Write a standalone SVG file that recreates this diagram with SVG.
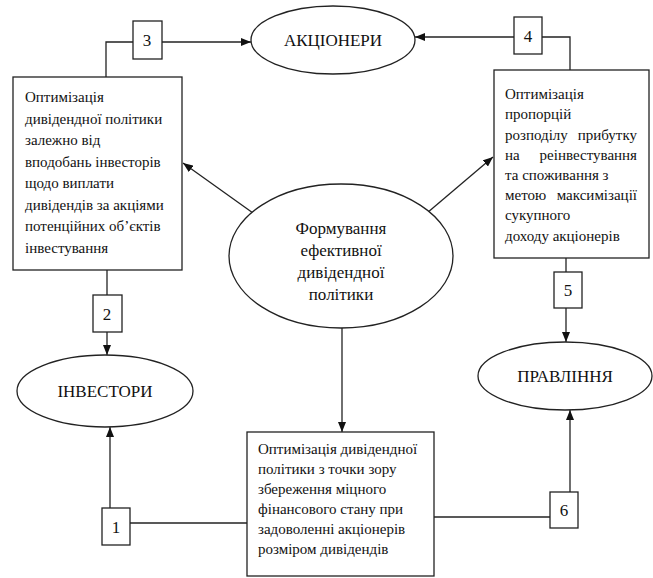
<svg xmlns="http://www.w3.org/2000/svg" width="653" height="578" viewBox="0 0 653 578">
<defs>
<marker id="arr" markerUnits="userSpaceOnUse" markerWidth="10" markerHeight="8" refX="10" refY="4" orient="auto">
<path d="M0,0 L10,4 L0,8 z" fill="#111"/>
</marker>
<style>
.shape{fill:#fff;stroke:#222;stroke-width:1.3}
.ln{fill:none;stroke:#222;stroke-width:1.3}
.t{font-family:'Liberation Serif','Tinos','DejaVu Serif',serif;font-size:15px;fill:#111}
.c{text-anchor:middle}
.big{font-size:17px}
</style>
</defs>
<rect width="653" height="578" fill="#fff"/>
<g id="connectors">
<polyline class="ln" points="106,77 106,42 133,42"/>
<line class="ln" x1="162" y1="42" x2="251" y2="42" marker-end="url(#arr)"/>
<polyline class="ln" points="570,70 570,37 542,37"/>
<line class="ln" x1="514" y1="37" x2="415" y2="37" marker-end="url(#arr)"/>
<line class="ln" x1="253" y1="213" x2="183" y2="163" marker-end="url(#arr)"/>
<line class="ln" x1="427" y1="213" x2="493" y2="157" marker-end="url(#arr)"/>
<line class="ln" x1="107" y1="270" x2="107" y2="295"/>
<line class="ln" x1="107" y1="332" x2="107" y2="355" marker-end="url(#arr)"/>
<line class="ln" x1="342" y1="328" x2="342" y2="432" marker-end="url(#arr)"/>
<line class="ln" x1="110" y1="508" x2="110" y2="427" marker-end="url(#arr)"/>
<line class="ln" x1="130" y1="523" x2="247" y2="523"/>
<line class="ln" x1="434" y1="517" x2="550" y2="517"/>
<line class="ln" x1="570" y1="492" x2="570" y2="410" marker-end="url(#arr)"/>
<line class="ln" x1="566" y1="258" x2="566" y2="272"/>
<line class="ln" x1="566" y1="308" x2="566" y2="342" marker-end="url(#arr)"/>
</g>
<g id="akcionery">
<ellipse class="shape" cx="333" cy="40" rx="82" ry="34"/>
<text class="t c big" x="333" y="46">АКЦІОНЕРИ</text>
</g>
<g id="investory">
<ellipse class="shape" cx="105" cy="391" rx="88" ry="36"/>
<text class="t c big" x="105" y="397">ІНВЕСТОРИ</text>
</g>
<g id="pravlinnia">
<ellipse class="shape" cx="565" cy="376" rx="87" ry="34"/>
<text class="t c big" x="565" y="382">ПРАВЛІННЯ</text>
</g>
<g id="center">
<ellipse class="shape" cx="341" cy="256" rx="112" ry="72"/>
<text class="t c big"><tspan x="341" y="234">Формування</tspan><tspan x="341" y="256">ефективної</tspan><tspan x="341" y="278">дивідендної</tspan><tspan x="341" y="300">політики</tspan></text>
</g>
<g id="box-left">
<rect class="shape" x="13" y="77" width="169" height="193"/>
<text class="t"><tspan x="25" y="102">Оптимізація</tspan><tspan x="25" y="124">дивідендної політики</tspan><tspan x="25" y="145">залежно від</tspan><tspan x="25" y="167">вподобань інвесторів</tspan><tspan x="25" y="188">щодо виплати</tspan><tspan x="25" y="210">дивідендів за акціями</tspan><tspan x="25" y="231">потенційних об’єктів</tspan><tspan x="25" y="253">інвестування</tspan></text>
</g>
<g id="box-right">
<rect class="shape" x="494" y="70" width="155" height="188"/>
<text class="t"><tspan x="505" y="99">Оптимізація</tspan><tspan x="505" y="119">пропорцій</tspan><tspan x="505" y="140">розподілу</tspan><tspan x="637" y="140" text-anchor="end">прибутку</tspan><tspan x="505" y="160">на</tspan><tspan x="637" y="160" text-anchor="end">реінвестування</tspan><tspan x="505" y="180">та споживання з</tspan><tspan x="505" y="200">метою</tspan><tspan x="637" y="200" text-anchor="end">максимізації</tspan><tspan x="505" y="220">сукупного</tspan><tspan x="505" y="241">доходу акціонерів</tspan></text>
</g>
<g id="box-bottom">
<rect class="shape" x="247" y="432" width="187" height="144"/>
<text class="t"><tspan x="258" y="454">Оптимізація дивідендної</tspan><tspan x="258" y="474">політики з точки зору</tspan><tspan x="258" y="494">збереження міцного</tspan><tspan x="258" y="514">фінансового стану при</tspan><tspan x="258" y="534">задоволенні акціонерів</tspan><tspan x="258" y="554">розміром дивідендів</tspan></text>
</g>
<g id="n1"><rect class="shape" x="102" y="508" width="28" height="37"/><text class="t c big" x="116" y="533">1</text></g>
<g id="n2"><rect class="shape" x="93" y="295" width="29" height="37"/><text class="t c big" x="107" y="320">2</text></g>
<g id="n3"><rect class="shape" x="133" y="21" width="29" height="38"/><text class="t c big" x="147" y="46">3</text></g>
<g id="n4"><rect class="shape" x="514" y="17" width="28" height="37"/><text class="t c big" x="528" y="42">4</text></g>
<g id="n5"><rect class="shape" x="554" y="272" width="28" height="36"/><text class="t c big" x="568" y="296">5</text></g>
<g id="n6"><rect class="shape" x="550" y="492" width="28" height="36"/><text class="t c big" x="564" y="516">6</text></g>
</svg>
